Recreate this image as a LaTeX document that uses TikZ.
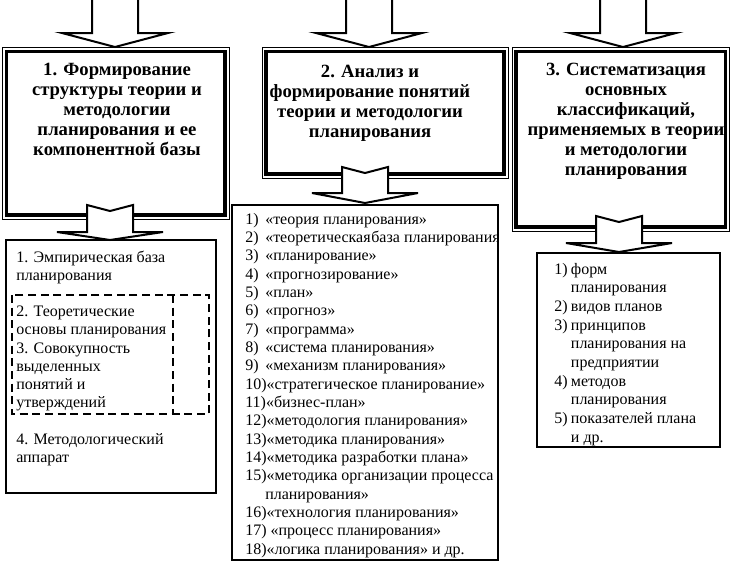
\documentclass[tikz,border=0pt]{standalone}
\usepackage{fontspec}
\setmainfont{Liberation Serif}

\tikzset{
  thinframe/.style={line width=0.75pt},
  thickframe/.style={line width=2.8pt},
  listbox/.style={line width=1.4pt},
  dashbox/.style={line width=1.5pt, dash pattern=on 6pt off 3.5pt},
  bigarrow/.style={line width=1.5pt, fill=white},
  titletext/.style={anchor=base, inner sep=0pt,
    font=\bfseries\fontsize{14}{15}\selectfont},
  listtext/.style={anchor=base west, inner sep=0pt}
}
\newcommand{\itemno}[2][15pt]{\makebox[#1][l]{#2}}

\begin{document}
\begin{tikzpicture}[x=0.75pt, y=-0.75pt]
    \useasboundingbox (0,0) rectangle (731,569);

    % title frames
    \draw [thinframe] (2.5,47.5) rectangle (229,219);
    \draw [thickframe] (6.5,51.5) rectangle (225,215);
    \draw [thinframe] (262,47.5) rectangle (508,178);
    \draw [thickframe] (266,51.5) rectangle (504,174);
    \draw [thinframe] (512,47.5) rectangle (729.5,231);
    \draw [thickframe] (516,51.5) rectangle (725.5,227);

    % block arrows
    \foreach \cx/\ytop/\ybase/\ytip in {115/-10/33/47, 369/-10/33/47, 623/-10/33/47,
        110/205/232/240, 365/167/193/203, 619/216/243/252}
        \draw [bigarrow] (\cx-23,\ytop) -- (\cx,\ytop+6) -- (\cx+23,\ytop)
            -- (\cx+23,\ybase) -- (\cx+53,\ybase) -- (\cx,\ytip)
            -- (\cx-53,\ybase) -- (\cx-23,\ybase) -- cycle;

    \node [titletext] (t1) at (117,75) {\begin{tabular}[t]{@{}c@{}}1. Формирование\\структуры  теории и\\методологии\\планирования и ее\\компонентной базы\end{tabular}};
    \node [titletext] (t2) at (370,77) {\begin{tabular}[t]{@{}c@{}}2. Анализ и\\формирование понятий\\теории и методологии\\планирования\end{tabular}};
    \node [titletext] (t3) at (626,75) {\begin{tabular}[t]{@{}c@{}}3. Систематизация\\основных\\классификаций,\\применяемых в теории\\и методологии\\планирования\end{tabular}};

    % list boxes
    \draw [listbox] (6,240) rectangle (216,493);
    \draw [dashbox] (12,295) rectangle (209,414);
    \draw [dashbox] (173,295) -- (173,414);
    \draw [listbox] (232,205) rectangle (498,560);
    \draw [listbox] (537,253) rectangle (720,447);

    \node [listtext, font=\fontsize{12}{13.65}\selectfont] (l1) at (16,262)
        {\begin{tabular}[t]{@{}l@{}}
         1. Эмпирическая база\\планирования\\ \\
         2. Теоретические\\основы планирования\\3. Совокупность\\выделенных\\понятий и\\утверждений\\ \\
         4. Методологический\\аппарат
         \end{tabular}};
    \begin{scope}
        \clip (233,206) rectangle (497,559);
        \node [listtext, font=\fontsize{12}{13.75}\selectfont] (l2) at (245,224)
            {\begin{tabular}[t]{@{}l@{}}
             \itemno{1)}«теория планирования»\\
             \itemno{2)}«теоретическая\hspace{0.5pt}база планирования\\
             \itemno{3)}«планирование»\\
             \itemno{4)}«прогнозирование»\\
             \itemno{5)}«план»\\
             \itemno{6)}«прогноз»\\
             \itemno{7)}«программа»\\
             \itemno{8)}«система планирования»\\
             \itemno{9)}«механизм планирования»\\
             10)«стратегическое планирование»\\
             11)«бизнес-план»\\
             12)«методология планирования»\\
             13)«методика планирования»\\
             14)«методика разработки плана»\\
             15)«методика организации процесса\\
             \itemno{}планирования»\\
             16)«технология планирования»\\
             17) «процесс планирования»\\
             18)«логика планирования» и др.
             \end{tabular}};
    \end{scope}
    \node [listtext, font=\fontsize{12}{14}\selectfont] (l3) at (554,274)
        {\begin{tabular}[t]{@{}l@{}}
         \itemno[12.5pt]{1)}форм\\
         \itemno[12.5pt]{}планирования\\
         \itemno[12.5pt]{2)}видов планов\\
         \itemno[12.5pt]{3)}принципов\\
         \itemno[12.5pt]{}планирования на\\
         \itemno[12.5pt]{}предприятии\\
         \itemno[12.5pt]{4)}методов\\
         \itemno[12.5pt]{}планирования\\
         \itemno[12.5pt]{5)}показателей плана\\
         \itemno[12.5pt]{}и др.
         \end{tabular}};
\end{tikzpicture}
\end{document}
